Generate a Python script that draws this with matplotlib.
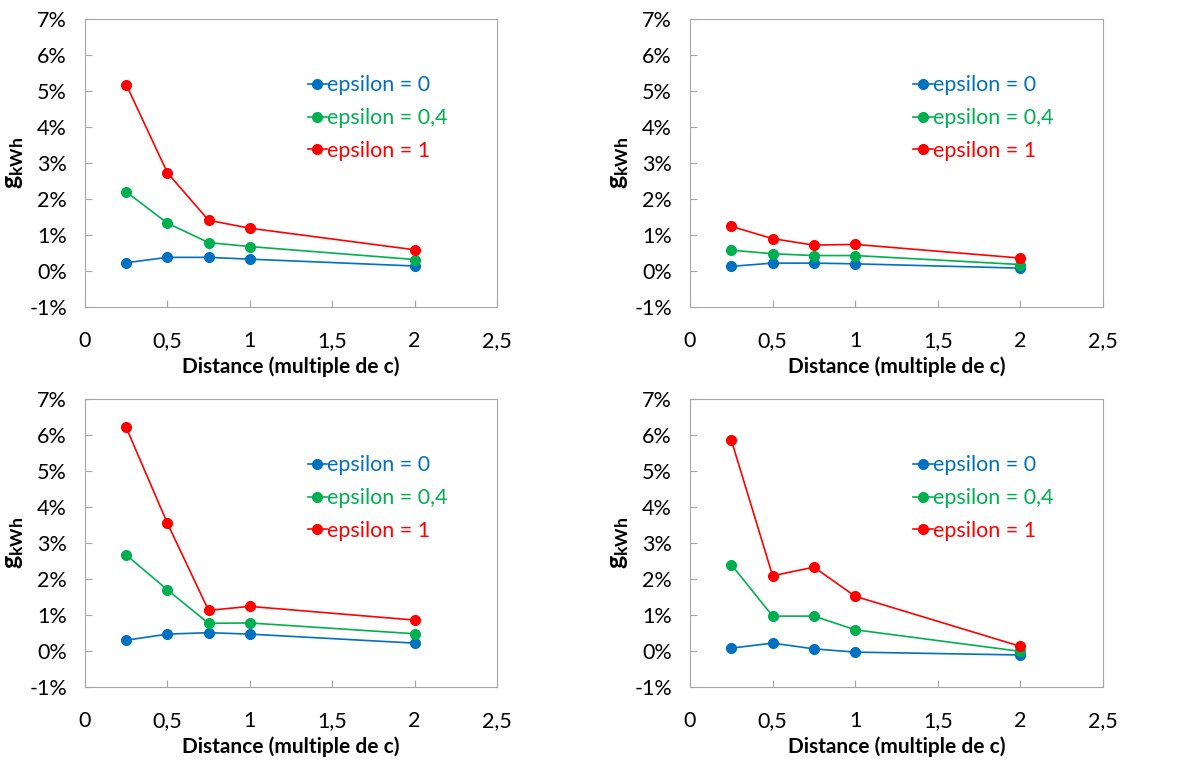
import numpy as np
import matplotlib
matplotlib.use('Agg')
import matplotlib.pyplot as plt
from matplotlib.ticker import FuncFormatter

plt.rcParams['font.family'] = ['Lato', 'DejaVu Sans']
plt.rcParams['mathtext.fontset'] = 'custom'
plt.rcParams['mathtext.bf'] = 'Lato:bold'
plt.rcParams['mathtext.rm'] = 'Lato'

# donnees (en %)
distance = [0.25, 0.5, 0.75, 1.0, 2.0]
labels = ['epsilon = 0', 'epsilon = 0,4', 'epsilon = 1']
couleurs = ['#0070C0', '#00B050', '#FF0000']

# haut gauche
hg_eps0 = [0.23, 0.38, 0.38, 0.33, 0.14]
hg_eps04 = [2.20, 1.33, 0.79, 0.68, 0.32]
hg_eps1 = [5.18, 2.73, 1.41, 1.19, 0.59]
# haut droite
hd_eps0 = [0.13, 0.22, 0.22, 0.20, 0.08]
hd_eps04 = [0.58, 0.48, 0.43, 0.43, 0.18]
hd_eps1 = [1.24, 0.90, 0.72, 0.74, 0.36]
# bas gauche
bg_eps0 = [0.30, 0.47, 0.51, 0.47, 0.22]
bg_eps04 = [2.67, 1.70, 0.77, 0.78, 0.48]
bg_eps1 = [6.21, 3.55, 1.13, 1.24, 0.86]
# bas droite
bd_eps0 = [0.08, 0.22, 0.06, -0.03, -0.11]
bd_eps04 = [2.40, 0.97, 0.97, 0.59, -0.01]
bd_eps1 = [5.86, 2.09, 2.33, 1.52, 0.13]

panneaux = [
    ([0.0716, 0.596, 0.347, 0.379], [hg_eps0, hg_eps04, hg_eps1]),
    ([0.5813, 0.596, 0.348, 0.379], [hd_eps0, hd_eps04, hd_eps1]),
    ([0.0716, 0.096, 0.347, 0.379], [bg_eps0, bg_eps04, bg_eps1]),
    ([0.5813, 0.096, 0.348, 0.379], [bd_eps0, bd_eps04, bd_eps1]),
]

fig = plt.figure(figsize=(11.87, 7.60), dpi=100)

for pos, series in panneaux:
    ax = fig.add_axes(pos)
    for vals, lab, c in zip(series, labels, couleurs):
        ax.plot(distance, vals, color=c, lw=1.2, marker='o', ms=7, label=lab)
    ax.set_xlim(0, 2.5)
    ax.set_ylim(-1, 7)
    ax.set_xticks([0, 0.5, 1, 1.5, 2, 2.5])
    ax.set_yticks(np.arange(-1, 8, 1))
    ax.xaxis.set_major_formatter(FuncFormatter(lambda v, p: ('%g' % v).replace('.', ',')))
    ax.yaxis.set_major_formatter(FuncFormatter(lambda v, p: '%d%%' % round(v)))
    ax.tick_params(direction='in', length=5, color='#A6A6A6', labelsize=15.5, colors='black')
    ax.tick_params(axis='y', pad=13)
    ax.tick_params(axis='x', pad=17)
    for s in ax.spines.values():
        s.set_color('#A6A6A6')
    ax.set_xlabel('Distance (multiple de c)', fontsize=15, fontweight='bold', labelpad=4)
    ax.set_ylabel(r'$\mathbf{g}_{\mathbf{kWh}}$', fontsize=18, labelpad=2)
    leg = ax.legend(loc='upper left', bbox_to_anchor=(0.52, 0.835), frameon=False,
                    fontsize=15.5, handlelength=0.9, handletextpad=0.0, labelspacing=0.6,
                    borderaxespad=0)
    for t, c in zip(leg.get_texts(), couleurs):
        t.set_color(c)

fig.savefig('out.png', dpi=100)
